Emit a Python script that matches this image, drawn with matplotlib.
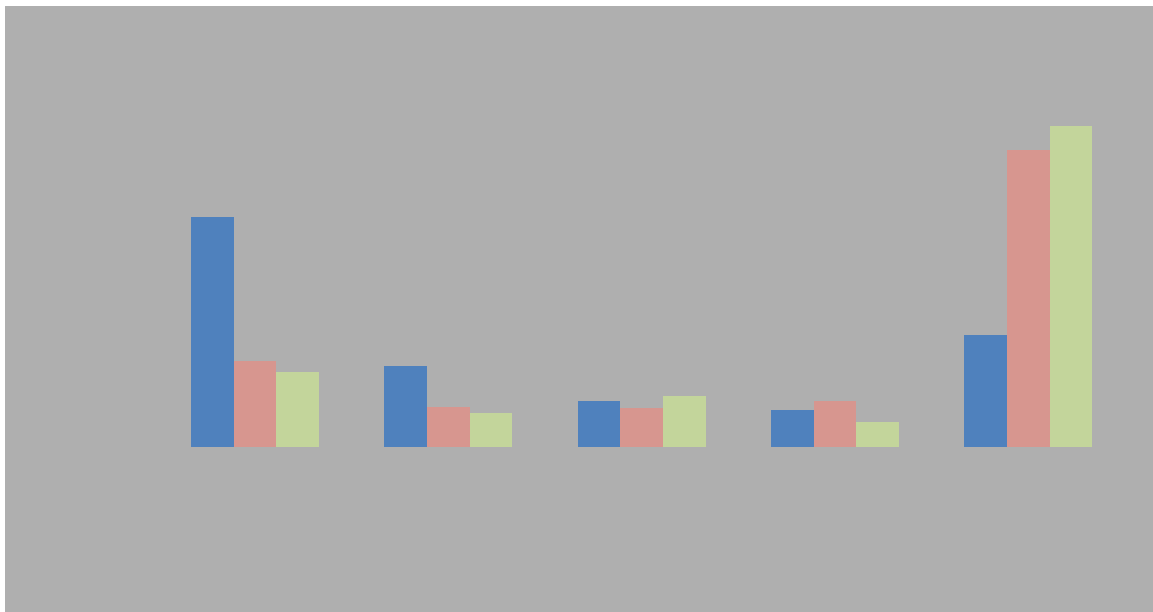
import matplotlib
matplotlib.use("Agg")
from matplotlib import pyplot as plt
import numpy as np

kategorie = ["A", "B", "C", "D", "E"]
seria1 = [230, 81, 46, 37, 112]
seria2 = [86, 40, 39, 46, 297]
seria3 = [75, 34, 51, 25, 321]

kolory = ["#4f81bd", "#d7968f", "#c3d59b"]
tlo = "#afafaf"

fig = plt.figure(figsize=(11.53, 6.12), dpi=100)
fig.patch.set_facecolor("white")

# szare pole wykresu, od lewej 5 px i od gory 6 px bialego marginesu
W, H = 1153, 612
ax = fig.add_axes([5 / W, 0, 1148 / W, 606 / H])
ax.set_facecolor(tlo)

x = np.arange(len(kategorie))
szer = 42.7 / 193.3
for k, (seria, kol) in enumerate(zip([seria1, seria2, seria3], kolory)):
    ax.bar(x + (k - 1) * szer, seria, width=szer, color=kol, linewidth=0)

ax.set_xlim((5 - 255) / 193.3, (1153 - 255) / 193.3)
ax.set_ylim(-165, 441)
ax.axis("off")
ax.add_patch(plt.Rectangle((0, 0), 1, 1, transform=ax.transAxes, color=tlo, zorder=-1))

fig.savefig("out.png", dpi=100, facecolor="white")
